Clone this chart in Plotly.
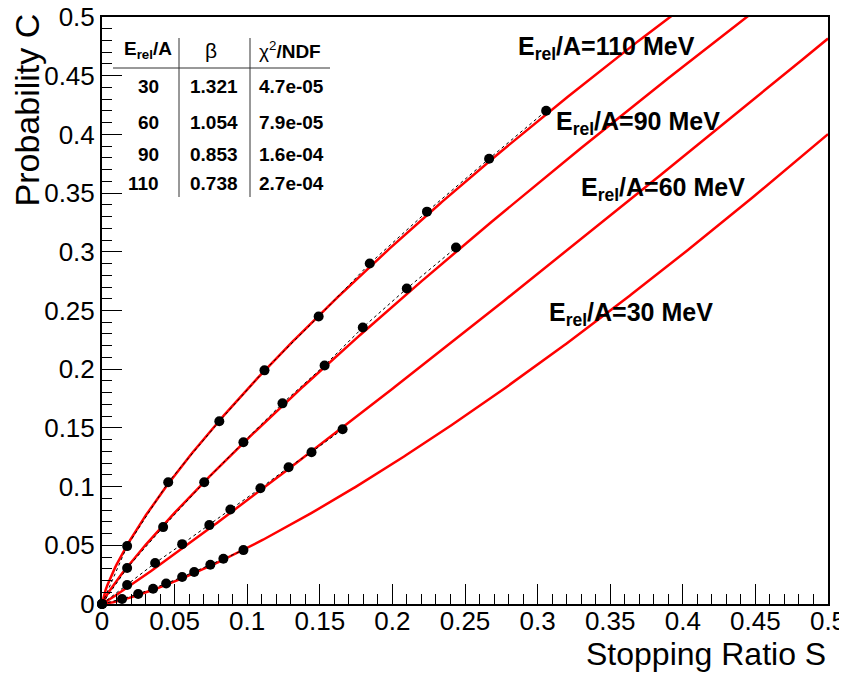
import numpy as np
import plotly.graph_objects as go

# ---------------- data ----------------
energies = [30, 60, 90, 110]
betas = [1.321, 1.054, 0.853, 0.738]
chi2_labels = ["4.7e-05", "7.9e-05", "1.6e-04", "2.7e-04"]

s_110 = [0.0, 0.0173, 0.0456, 0.0808, 0.1119, 0.1492, 0.1844, 0.2238, 0.2666, 0.3059]
c_110 = [0.0, 0.0493, 0.1037, 0.1556, 0.1990, 0.2449, 0.2900, 0.3342, 0.3793, 0.4201]

s_90 = [0.0, 0.0173, 0.0421, 0.0704, 0.0974, 0.1243, 0.1533, 0.1796, 0.2099, 0.2438]
c_90 = [0.0, 0.0306, 0.0655, 0.1037, 0.1378, 0.1709, 0.2032, 0.2355, 0.2687, 0.3036]

s_60 = [0.0, 0.0173, 0.0366, 0.0552, 0.0739, 0.0884, 0.1091, 0.1285, 0.1443, 0.1657]
c_60 = [0.0, 0.0162, 0.0349, 0.0510, 0.0672, 0.0805, 0.0986, 0.1165, 0.1293, 0.1488]

s_30 = [0.0, 0.0138, 0.0249, 0.0352, 0.0442, 0.0552, 0.0635, 0.0746, 0.0836, 0.0974]
c_30 = [0.0, 0.0043, 0.0085, 0.0130, 0.0175, 0.0230, 0.0272, 0.0335, 0.0385, 0.0459]

series = {110: (s_110, c_110), 90: (s_90, c_90), 60: (s_60, c_60), 30: (s_30, c_30)}

x_tickvals = [0, 0.05, 0.1, 0.15, 0.2, 0.25, 0.3, 0.35, 0.4, 0.45, 0.5]
x_ticktext = ["0", "0.05", "0.1", "0.15", "0.2", "0.25", "0.3", "0.35", "0.4", "0.45", "0.5"]
y_tickvals = x_tickvals
y_ticktext = x_ticktext

# label placement of the curve names (data coords)
label_pos = {110: (0.2852, 0.4736), 90: (0.3115, 0.4099), 60: (0.3287, 0.3537), 30: (0.3066, 0.2466)}

FONT = "Liberation Sans, Arial, Helvetica, sans-serif"

fig = go.Figure()

# fit curves C = S^beta
s_grid = np.linspace(0, 0.5, 400)
for e, b in zip(energies, betas):
    fig.add_trace(go.Scatter(x=s_grid, y=s_grid ** b, mode="lines",
                             line=dict(color="#ff0000", width=2.5),
                             showlegend=False, hoverinfo="skip"))

# data points with dashed connecting line
for e in [110, 90, 60, 30]:
    s, c = series[e]
    fig.add_trace(go.Scatter(x=s, y=c, mode="lines", line=dict(color="black", width=1, dash="3px,3px"),
                             showlegend=False, hoverinfo="skip"))
for e in [110, 90, 60, 30]:
    s, c = series[e]
    fig.add_trace(go.Scatter(x=s, y=c, mode="markers", marker=dict(color="black", size=10),
                             cliponaxis=False, showlegend=False))

annotations = []
for e in energies:
    x, y = label_pos[e]
    annotations.append(dict(x=x, y=y, xref="x", yref="y", xanchor="left", yanchor="middle",
                            text=f"<b>E<sub>rel</sub>/A={e} MeV</b>", showarrow=False,
                            font=dict(family=FONT, size=25, color="black")))

# table (paper coords derived from page-pixel layout: plot area x 102..828, y 17..604)
def px(xp):
    return (xp - 102) / 726.0

def py(yp):
    return (604 - yp) / 587.0

tfont = dict(family=FONT, size=19, color="black")
annotations.append(dict(x=px(148), y=py(50), xref="paper", yref="paper", xanchor="center", yanchor="middle",
                        text="<b>E<sub>rel</sub>/A</b>", showarrow=False, font=tfont))
annotations.append(dict(x=px(211), y=py(50), xref="paper", yref="paper", xanchor="center", yanchor="middle",
                        text="β", showarrow=False, font=dict(family=FONT, size=21, color="black")))
annotations.append(dict(x=px(290), y=py(50), xref="paper", yref="paper", xanchor="center", yanchor="middle",
                        text="χ<sup>2</sup><b>/NDF</b>", showarrow=False, font=tfont))
row_y = [87, 122, 155, 183]
for e, b, ch, ry in zip(energies, betas, chi2_labels, row_y):
    annotations.append(dict(x=px(161), y=py(ry), xref="paper", yref="paper", xanchor="right", yanchor="middle",
                            text=f"<b>{e}</b>", showarrow=False, font=tfont))
    annotations.append(dict(x=px(214), y=py(ry), xref="paper", yref="paper", xanchor="center", yanchor="middle",
                            text=f"<b>{b:.3f}</b>", showarrow=False, font=tfont))
    annotations.append(dict(x=px(291), y=py(ry), xref="paper", yref="paper", xanchor="center", yanchor="middle",
                            text=f"<b>{ch}</b>", showarrow=False, font=tfont))

# axis titles
annotations.append(dict(x=1.0, y=py(674), xref="paper", yref="paper", xanchor="right", yanchor="bottom",
                        text="Stopping Ratio S", showarrow=False,
                        font=dict(family=FONT, size=32, color="black")))
annotations.append(dict(x=px(26), y=py(12), xref="paper", yref="paper", xanchor="center", yanchor="top",
                        text="Probability C", textangle=-90, showarrow=False,
                        font=dict(family=FONT, size=34, color="black")))

shapes = [
    dict(type="line", xref="paper", yref="paper", x0=px(179), x1=px(179), y0=py(38), y1=py(197),
         line=dict(color="#333333", width=1)),
    dict(type="line", xref="paper", yref="paper", x0=px(250), x1=px(250), y0=py(38), y1=py(197),
         line=dict(color="#333333", width=1)),
    dict(type="line", xref="paper", yref="paper", x0=px(113), x1=px(330), y0=py(68), y1=py(68),
         line=dict(color="#333333", width=1)),
]

axis_common = dict(range=[0, 0.5], showgrid=False, zeroline=False, showline=True, linecolor="black",
                   linewidth=2, mirror=True, ticks="inside", ticklen=20, tickwidth=1, tickcolor="black",
                   automargin=False, ticklabeloverflow="allow",
                   tickfont=dict(family=FONT, size=26, color="black"),
                   minor=dict(ticks="inside", ticklen=10, dtick=0.01, tickwidth=1, tickcolor="black",
                              showgrid=False))

# The page body has an 8px default margin, so the figure is drawn 8px smaller and
# its margins reduced by 8px to place the plot area at page pixels x 102..828, y 17..604.
fig.update_layout(
    width=839, height=674,
    margin=dict(l=94, r=19, t=9, b=78, pad=0, autoexpand=False),
    paper_bgcolor="white", plot_bgcolor="white",
    xaxis=dict(**axis_common, tickvals=x_tickvals, ticktext=x_ticktext, ticklabelstandoff=-7),
    yaxis=dict(**axis_common, tickvals=y_tickvals, ticktext=y_ticktext),
    annotations=annotations, shapes=shapes, showlegend=False,
)

fig.write_html("out.html")
